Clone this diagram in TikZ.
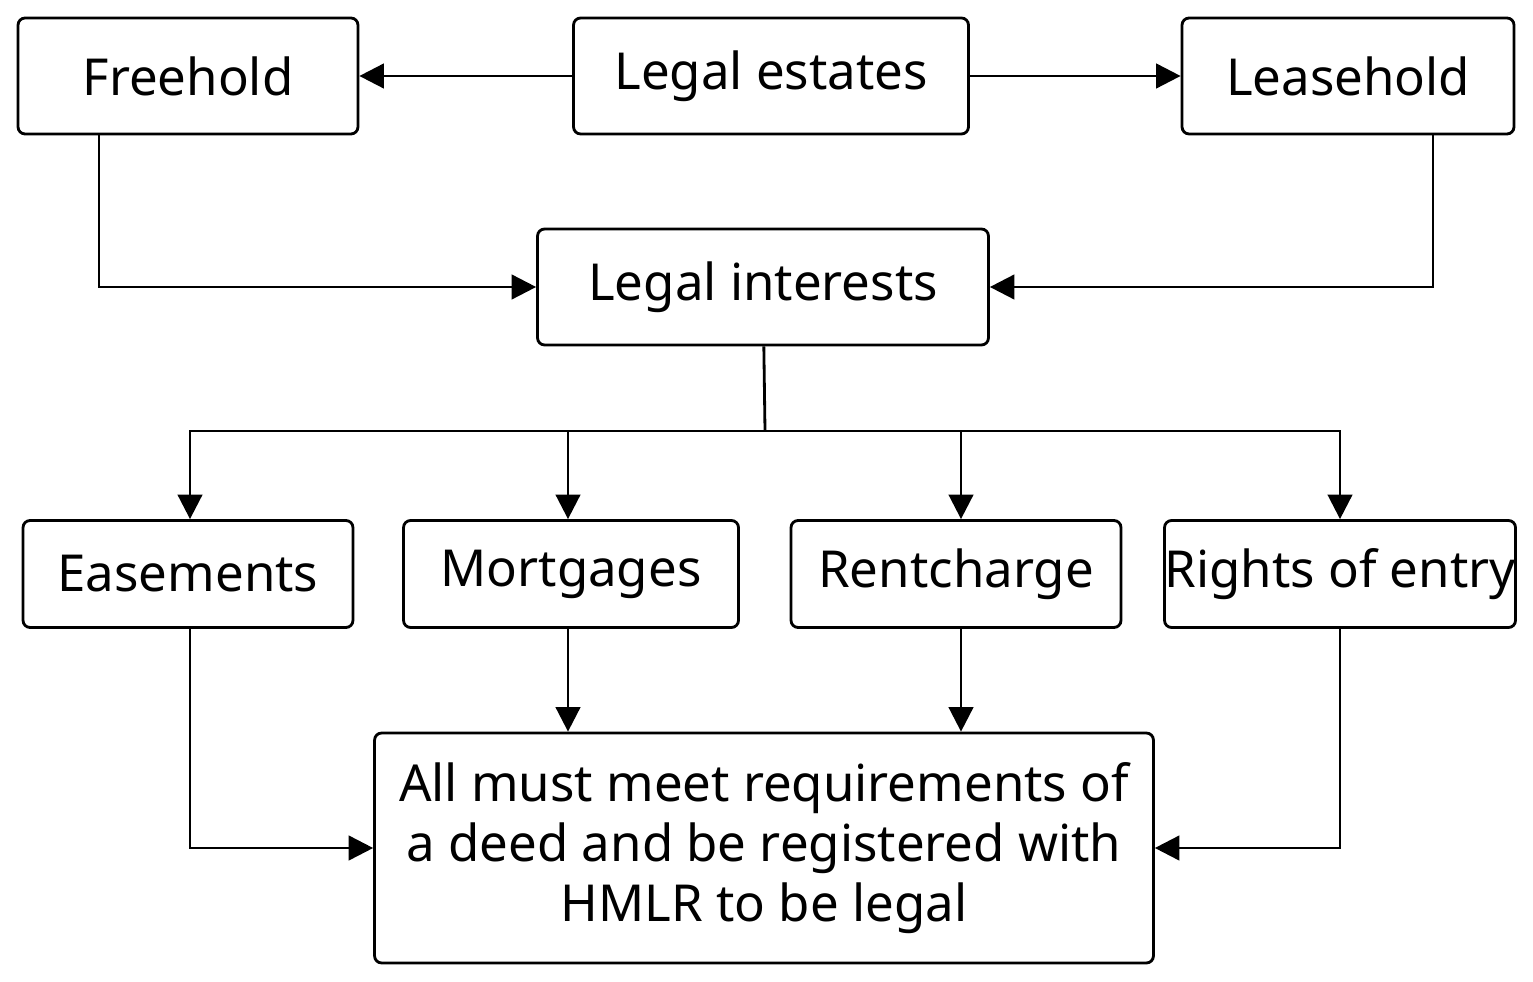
\documentclass[tikz,border=0pt]{standalone}
\usepackage{fontspec}
\setmainfont{Noto Sans}
\usetikzlibrary{arrows.meta, positioning}
\tikzset{
box/.style={draw, line width=1.6pt, rounded corners=4pt, align=center, inner sep=0pt, font=\fontsize{29}{36}\selectfont}, % every box
link/.style={line width=1.6pt, -{Triangle[length=14pt, width=14pt]}}, % connectors
}
\begin{document}
\begin{tikzpicture}[x=0.02cm, y=-0.02cm]
\useasboundingbox (0,0) rectangle (1533,982);

            \node[box, minimum width=6.8cm, minimum height=2.32cm] (free) at (188,76) {Freehold};
            \node[box, minimum width=7.9cm, minimum height=2.32cm] (estates) at (771,76) {Legal estates};
            \node[box, minimum width=6.64cm, minimum height=2.32cm] (lease) at (1348,76) {Leasehold};
            \node[box, minimum width=9.02cm, minimum height=2.32cm] (interests) at (763,287) {Legal interests};
            \node[box, minimum width=6.6cm, minimum height=2.14cm] (ease) at (188,574) {Easements};
            \node[box, minimum width=6.7cm, minimum height=2.14cm] (mort) at (571,574) {Mortgages};
            \node[box, minimum width=6.6cm, minimum height=2.14cm] (rent) at (956,574) {Rentcharge};
            \node[box, minimum width=6.8cm, minimum height=2.14cm] (entry) at (1340,574) {Rights of entry};
            \node[box, minimum width=15.58cm, minimum height=4.6cm, font=\fontsize{29}{34}\selectfont] (deed) at (764,848) {All must meet requirements of\\a deed and be registered with\\HMLR to be legal};
            \coordinate (split) at (765,431);

            \draw[link] (estates) -- (free);
            \draw[link] (estates) -- (lease);
            \draw[link] (free.south -| 99,0) |- (interests);
            \draw[link] (lease.south -| 1433,0) |- (interests);
            \draw[line width=1.6pt] (interests) -- (split);
            \draw[link] (split) -| (ease.north -| 190,0);
            \draw[link] (split) -| (mort.north -| 568,0);
            \draw[link] (split) -| (rent.north -| 961,0);
            \draw[link] (split) -| (entry.north);
            \draw[link] (ease.south -| 190,0) |- (deed);
            \draw[link] (mort.south -| 568,0) -- (deed.north -| 568,0);
            \draw[link] (rent.south -| 961,0) -- (deed.north -| 961,0);
            \draw[link] (entry.south) |- (deed);
        \end{tikzpicture}
\end{document}
